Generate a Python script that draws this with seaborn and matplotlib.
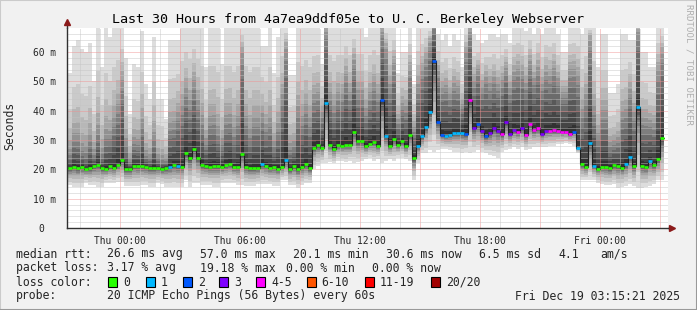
import numpy as np
import matplotlib
matplotlib.use("Agg")
import matplotlib.pyplot as plt
import seaborn as sns
from matplotlib.patches import Rectangle
from matplotlib.lines import Line2D

# ---------------- data ----------------
title = "Last 30 Hours from 4a7ea9ddf05e to U. C. Berkeley Webserver"
bin_hours = 0.2            # 12-minute consolidation steps
first_bin_offset = -14     # bins before Thu 00:00

# median rtt per bin (ms)
med = [20.4, 20.4, 20.9, 20.4, 20.9, 20.1, 20.4, 21.1, 21.6, 20.5,
       20.1, 21.1, 20.5, 21.6, 23.2, 20.1, 20.1, 21.3, 21.1, 21.1,
       20.9, 20.6, 20.6, 20.6, 20.1, 20.6, 20.9, 21.6, 21.1, 20.9,
       25.5, 23.7, 27.1, 24.0, 21.6, 21.3, 20.9, 21.3, 21.3, 20.9,
       21.6, 21.9, 20.9, 20.9, 25.4, 20.9, 20.5, 20.5, 20.5, 21.9,
       21.3, 20.5, 20.9, 20.2, 20.9, 23.2, 20.1, 21.1, 20.1, 20.9,
       21.7, 20.4, 27.4, 28.4, 27.4, 42.6, 28.4, 26.9, 28.4, 28.1,
       28.4, 28.4, 32.9, 29.6, 29.6, 27.8, 28.7, 29.2, 28.1, 43.5,
       31.5, 28.1, 30.4, 28.4, 29.5, 27.8, 31.8, 23.7, 28.1, 31.2,
       34.6, 39.7, 57.0, 36.3, 31.8, 31.4, 31.8, 32.5, 32.5, 32.5,
       32.1, 43.7, 34.1, 35.5, 33.2, 31.4, 32.5, 34.1, 33.2, 32.1,
       36.2, 32.1, 33.4, 32.8, 34.0, 31.8, 35.5, 33.4, 34.0, 32.1,
       33.2, 33.2, 33.4, 33.2, 32.8, 32.8, 32.1, 32.8, 27.3, 21.8,
       20.9, 29.1, 21.2, 20.2, 20.9, 20.9, 20.5, 21.4, 21.2, 20.5,
       21.8, 24.3, 21.2, 41.4, 21.2, 20.9, 23.0, 21.6, 23.4, 30.6]

# loss colour class per bin (index into loss_labels)
loss = [0, 0, 0, 0, 0, 0, 0, 0, 0, 0,
        0, 0, 0, 0, 0, 0, 0, 0, 0, 0,
        0, 0, 0, 0, 0, 0, 1, 0, 1, 0,
        0, 0, 0, 0, 0, 0, 0, 0, 0, 0,
        0, 0, 0, 0, 0, 0, 0, 0, 0, 1,
        0, 0, 0, 0, 0, 1, 0, 0, 0, 0,
        0, 0, 0, 0, 0, 1, 0, 0, 0, 0,
        0, 0, 0, 0, 0, 0, 0, 0, 0, 2,
        1, 0, 0, 0, 0, 0, 0, 0, 1, 1,
        1, 1, 2, 2, 2, 1, 1, 1, 1, 1,
        2, 4, 3, 2, 3, 2, 3, 3, 3, 4,
        3, 3, 3, 4, 3, 4, 4, 4, 4, 3,
        3, 4, 4, 4, 4, 4, 4, 2, 1, 0,
        0, 1, 1, 0, 0, 0, 0, 0, 0, 0,
        1, 1, 0, 1, 0, 0, 1, 0, 0, 0]

# lowest ping per bin (ms)
lo = [14.7, 14.7, 14.1, 14.1, 14.0, 15.4, 14.7, 14.7, 14.0, 14.0,
      15.4, 15.4, 15.4, 15.8, 15.8, 14.4, 14.4, 14.4, 14.4, 14.7,
      14.7, 14.0, 14.0, 15.2, 15.0, 14.0, 14.0, 14.0, 14.0, 14.1,
      16.4, 14.1, 15.4, 15.4, 14.7, 14.7, 14.7, 14.0, 14.0, 15.4,
      15.4, 15.4, 15.4, 14.7, 14.7, 14.4, 14.4, 14.4, 15.0, 15.0,
      15.0, 15.0, 14.4, 14.4, 16.4, 16.4, 14.7, 14.7, 13.7, 14.7,
      15.3, 15.3, 20.0, 21.0, 22.0, 22.0, 22.5, 22.0, 23.0, 23.0,
      22.5, 23.0, 22.0, 22.5, 23.0, 23.5, 24.0, 23.0, 23.5, 22.0,
      23.0, 23.5, 23.0, 24.0, 24.0, 23.5, 23.0, 16.4, 22.0, 25.6,
      25.6, 26.6, 26.0, 26.6, 27.0, 27.0, 26.6, 26.0, 26.0, 25.5,
      26.0, 25.6, 26.0, 26.6, 26.0, 25.5, 25.0, 24.5, 24.0, 26.0,
      26.6, 27.0, 27.6, 27.0, 27.6, 26.6, 27.0, 27.6, 27.6, 27.6,
      27.6, 28.0, 28.0, 28.5, 28.5, 29.0, 28.5, 28.0, 25.6, 16.4,
      16.4, 16.4, 16.4, 15.3, 15.0, 14.5, 14.5, 15.0, 13.7, 14.0,
      14.4, 15.0, 14.4, 13.7, 13.7, 14.0, 14.4, 15.0, 16.4, 16.4]

# highest ping per bin (ms, 70 = off the top of the chart)
hi = [53, 53, 62, 64, 61, 60, 63, 50, 70, 55,
      70, 65, 70, 70, 70, 58, 39, 56, 55, 67,
      49, 44, 65, 44, 44, 37, 64, 64, 64, 70,
      70, 70, 70, 70, 70, 55, 70, 70, 70, 56,
      70, 70, 70, 70, 70, 70, 70, 70, 70, 62,
      62, 70, 53, 65, 70, 70, 52, 52, 70, 70,
      70, 70, 70, 70, 56, 70, 70, 70, 70, 70,
      70, 70, 70, 70, 70, 65, 70, 70, 70, 70,
      70, 70, 70, 53, 60, 60, 70, 49, 70, 70,
      70, 70, 70, 66, 64, 66, 62, 66, 64, 55,
      70, 70, 66, 64, 63, 64, 66, 66, 65, 66,
      66, 63, 70, 70, 70, 67, 70, 66, 70, 66,
      70, 70, 70, 66, 60, 60, 70, 70, 70, 66,
      70, 70, 70, 55, 66, 66, 46, 46, 49, 66,
      66, 64, 64, 70, 60, 60, 55, 55, 70, 70]

# how strongly the upper pings crowd towards the top, per bin (0..1)
dense = [0.0, 0.0, 0.1, 0.1, 0.0, 0.0, 0.1, 0.0, 0.1, 0.0,
         0.1, 0.1, 0.2, 0.3, 0.5, 0.1, 0.0, 0.1, 0.1, 0.2,
         0.0, 0.0, 0.1, 0.0, 0.0, 0.0, 0.2, 0.2, 0.3, 0.3,
         0.4, 0.3, 0.45, 0.3, 0.2, 0.1, 0.2, 0.2, 0.1, 0.1,
         0.2, 0.2, 0.1, 0.2, 0.75, 0.2, 0.1, 0.2, 0.2, 0.3,
         0.2, 0.2, 0.1, 0.2, 0.4, 0.8, 0.1, 0.1, 0.3, 0.2,
         0.3, 0.2, 0.3, 0.3, 0.3, 0.9, 0.3, 0.2, 0.3, 0.3,
         0.5, 0.3, 0.6, 0.3, 0.3, 0.2, 0.3, 0.4, 0.3, 0.9,
         0.75, 0.4, 0.6, 0.2, 0.3, 0.3, 0.5, 0.3, 0.4, 0.5,
         0.6, 0.75, 0.95, 0.5, 0.4, 0.4, 0.35, 0.4, 0.4, 0.3,
         0.7, 0.9, 0.4, 0.6, 0.4, 0.55, 0.4, 0.45, 0.4, 0.45,
         0.55, 0.4, 0.45, 0.5, 0.45, 0.4, 0.55, 0.45, 0.5, 0.4,
         0.45, 0.4, 0.5, 0.45, 0.4, 0.4, 0.5, 0.5, 0.5, 0.3,
         0.4, 0.85, 0.3, 0.2, 0.3, 0.3, 0.2, 0.2, 0.2, 0.3,
         0.3, 0.5, 0.3, 0.9, 0.3, 0.3, 0.3, 0.3, 0.6, 0.7]

loss_labels = ["0", "1", "2", "3", "4-5", "6-10", "11-19", "20/20"]
loss_colors = ["#26ff00", "#00b8ff", "#0059ff", "#7e00ff", "#ff00ff",
               "#ff5500", "#ff0000", "#a10000"]

x_tick_hours = [0, 6, 12, 18, 24]
x_tick_labels = ["Thu 00:00", "Thu 06:00", "Thu 12:00", "Thu 18:00", "Fri 00:00"]
y_tick_values = [0, 10, 20, 30, 40, 50, 60]
y_tick_labels = ["0  ", "10 m", "20 m", "30 m", "40 m", "50 m", "60 m"]

stats_rtt = ["median rtt:", "26.6 ms avg", "57.0 ms max", "20.1 ms min",
             "30.6 ms now", "6.5 ms sd", "4.1", "am/s"]
stats_loss = ["packet loss:", "3.17 % avg", "19.18 % max", "0.00 % min", "0.00 % now"]
probe_text = ["probe:", "20 ICMP Echo Pings (56 Bytes) every 60s"]
date_text = "Fri Dec 19 03:15:21 2025"

# ---------------- style ----------------
sns.set_theme(style="white")
plt.rcParams["font.family"] = ["DejaVu Sans Mono", "DejaVu Sans"]

W, H = 697, 310
fig = plt.figure(figsize=(W / 100, H / 100), dpi=100, facecolor="#f1f1f1")
ax_l, ax_r, ax_t, ax_b = 67, 668, 28, 228
ax = fig.add_axes([ax_l / W, (H - ax_b) / H, (ax_r - ax_l) / W, (ax_b - ax_t) / H])
ax.set_facecolor("white")

med_a = np.array(med, float)
lo_a = np.array(lo, float)
hi_a = np.array(hi, float)
dens = np.array(dense, float)
n = len(med_a)
edges = (np.arange(n + 1) + first_bin_offset) * bin_hours

# smoke: 10 nested bands, lighter outside, darker towards the median
wu = np.array([1.0, 0.62, 0.42, 0.29, 0.20, 0.135, 0.09, 0.055, 0.03, 0.012])
wl = np.array([1.0, 0.80, 0.60, 0.45, 0.33, 0.24, 0.16, 0.10, 0.05, 0.02])
fk = np.array([1.0, 1.0, 1.0, 1.0, 0.95, 0.85, 0.7, 0.5, 0.3, 0.1])
for k in range(10):
    g = int(190 / 10 * (10 - (k + 1))) + 50
    col = "#%02x%02x%02x" % (g, g, g)
    w_up = wu[k] + (1 - wu[k]) * dens * fk[k]
    top = med_a + (hi_a - med_a) * w_up
    bot = med_a - (med_a - lo_a) * wl[k]
    ax.fill_between(edges, np.append(bot, bot[-1]), np.append(top, top[-1]),
                    step="post", color=col, linewidth=0, zorder=1)

# grid (drawn above the smoke like rrdtool)
dot = (0, (1, 1))
for h in range(-2, 28):
    major = h % 3 == 0
    ax.axvline(h, color="#f09090" if major else "#c4c4c4", lw=0.72,
               ls=dot, zorder=2, alpha=0.9)
for v in range(2, 68, 2):
    major = v % 10 == 0
    ax.axhline(v, color="#f09090" if major else "#c4c4c4", lw=0.72,
               ls=dot, zorder=2, alpha=0.9)

# median: dark step line + loss-coloured ticks
sns.lineplot(x=edges, y=np.append(med_a, med_a[-1]), drawstyle="steps-post",
             color="#202020", lw=0.8, estimator=None, sort=False, ax=ax, zorder=3)
loss_a = np.array(loss)
for ci, c in enumerate(loss_colors):
    m = loss_a == ci
    if m.any():
        ax.hlines(med_a[m], edges[:-1][m], edges[1:][m], colors=c, lw=1.9,
                  zorder=4, capstyle="butt")

ax.set_xlim((ax_l - 120) / 20, (ax_r - 120) / 20)
ax.set_ylim(0, (ax_b - ax_t) / 2.933)
ax.set_xticks(x_tick_hours)
ax.set_xticklabels(x_tick_labels, fontsize=6.9)
ax.set_yticks(y_tick_values)
ax.set_yticklabels(y_tick_labels, fontsize=6.9)
ax.tick_params(axis="both", length=2, width=0.7, color="#404040", pad=4)
ax.tick_params(axis="y", pad=6)
for s in ["top", "right"]:
    ax.spines[s].set_visible(False)
for s in ["left", "bottom"]:
    ax.spines[s].set_color("#303030")
    ax.spines[s].set_linewidth(1.0)
    ax.spines[s].set_zorder(5)

# axis arrows
ax.plot([0, 0], [1, 1.02], transform=ax.transAxes, color="#303030", lw=1.0, clip_on=False)
ax.plot([0], [1.03], transform=ax.transAxes, marker="^", ms=4.5, color="#8b1a1a",
        clip_on=False, mec="#8b1a1a")
ax.plot([1, 1.005], [0, 0], transform=ax.transAxes, color="#303030", lw=1.0, clip_on=False)
ax.plot([1.007], [0], transform=ax.transAxes, marker=">", ms=4.5, color="#8b1a1a",
        clip_on=False, mec="#8b1a1a")

# texts
def fx(x):
    return x / W

def fy(y):
    return 1 - y / H

fig.text(fx(347.5), fy(19), title, ha="center", va="center", fontsize=9.6, color="black")
fig.text(fx(10), fy(126), "Seconds", rotation=90, ha="center", va="center", fontsize=8.3)
fig.text(fx(689), fy(4), "RRDTOOL / TOBI OETIKER", rotation=270, ha="center", va="top",
         fontsize=6.6, color="#b0b0b0")

fs = 8.3
rtt_x = [16, 107, 200, 293, 386, 479, 558, 600]
for t, x in zip(stats_rtt, rtt_x):
    fig.text(fx(x), fy(254), t, ha="left", va="center", fontsize=fs)
loss_x = [16, 107, 200, 286.5, 372.5]
for t, x in zip(stats_loss, loss_x):
    fig.text(fx(x), fy(268), t, ha="left", va="center", fontsize=fs)
fig.text(fx(16), fy(282), "loss color:", ha="left", va="center", fontsize=fs)
box_x = [108.3, 145.7, 182.7, 219.3, 256, 306.7, 365, 431]
for lab, c, x in zip(loss_labels, loss_colors, box_x):
    fig.add_artist(Rectangle((fx(x), fy(287)), 9 / W, 10 / H, transform=fig.transFigure,
                             facecolor=c, edgecolor="black", lw=0.8))
    fig.text(fx(x + 15), fy(282), lab, ha="left", va="center", fontsize=fs)
fig.text(fx(16), fy(296), probe_text[0], ha="left", va="center", fontsize=fs)
fig.text(fx(107), fy(296), probe_text[1], ha="left", va="center", fontsize=fs)
fig.text(fx(680), fy(296), date_text, ha="right", va="center", fontsize=fs)

# 3-D frame
fig.add_artist(Line2D([0, 0], [0, 1], transform=fig.transFigure, color="#cbcbcb", lw=1.5))
fig.add_artist(Line2D([0, 1], [1, 1], transform=fig.transFigure, color="#cbcbcb", lw=1.5))
fig.add_artist(Line2D([1, 1], [0, 1], transform=fig.transFigure, color="#999999", lw=1.5))
fig.add_artist(Line2D([0, 1], [0, 0], transform=fig.transFigure, color="#999999", lw=1.5))

fig.savefig("out.png", dpi=100, facecolor=fig.get_facecolor())
